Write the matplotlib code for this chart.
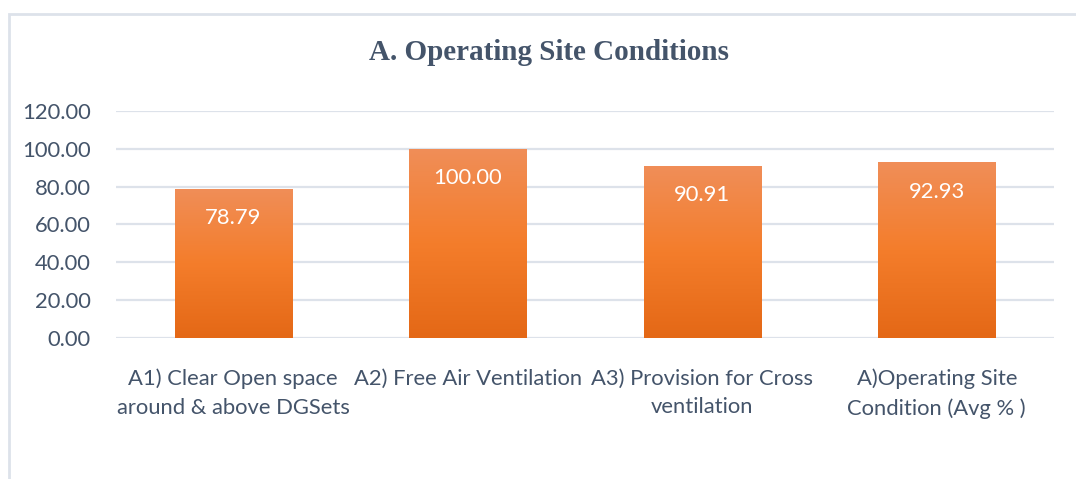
import numpy as np
import matplotlib
matplotlib.use("Agg")
import matplotlib.pyplot as plt
from matplotlib.patches import Rectangle
from matplotlib.colors import LinearSegmentedColormap

categories = ["A1) Clear Open space\naround & above DGSets",
              "A2) Free Air Ventilation",
              "A3) Provision for Cross\nventilation",
              "A)Operating Site\nCondition (Avg % )"]
values = [78.79, 100.00, 90.91, 92.93]
yticks = [0, 20, 40, 60, 80, 100, 120]

txt = "#44546A"
grid_c = "#DDE2EA"

plt.rcParams['font.family'] = ['Lato', 'DejaVu Sans']

fig = plt.figure(figsize=(10.76, 4.79), dpi=100)
ax = fig.add_axes([0.1078, 0.2944, 0.8718, 0.4739])

# chart border (only top/left visible in the crop)
fig.patches.append(Rectangle((8.5 / 1076, -0.1), 1.2, 1 - 14.5 / 479 + 0.1,
                             transform=fig.transFigure, fill=False,
                             edgecolor=grid_c, linewidth=2))

x = np.arange(len(values))
bars = ax.bar(x, values, width=0.5, color="#F47C2A", zorder=2)

grad = LinearSegmentedColormap.from_list("g", ["#E46816", "#F47D2B", "#F08E58"])
for b in bars:
    x0, y0 = b.get_x(), b.get_y()
    w, h = b.get_width(), b.get_height()
    im = ax.imshow(np.linspace(0, 1, 256).reshape(-1, 1), cmap=grad, aspect="auto",
                   origin="lower", extent=[x0, x0 + w, y0, y0 + h], zorder=3)
    im.set_clip_path(b)
    ax.text(x0 + w / 2, y0 + h - 15.5, f"{h:.2f}", ha="center", va="center",
            color="white", fontsize=15.8, zorder=4)

ax.set_xlim(-0.5, len(values) - 0.5)
ax.set_ylim(0, 120)
ax.set_yticks(yticks)
ax.set_yticklabels([f"{v:.2f}" for v in yticks])
ax.set_xticks(x)
ax.set_xticklabels(categories, linespacing=1.55)
ax.tick_params(axis="both", length=0, labelsize=15.8, colors=txt)
ax.tick_params(axis="y", pad=18)
ax.tick_params(axis="x", pad=22)
ax.grid(axis="y", color=grid_c, linewidth=1.6, zorder=0)
for s in ax.spines.values():
    s.set_visible(False)

fig.text(549 / 1076, 1 - 53 / 479, "A. Operating Site Conditions", ha="center", va="center",
         fontsize=21, fontweight="bold", color=txt, family="Liberation Serif")

fig.savefig("out.png", dpi=100)
